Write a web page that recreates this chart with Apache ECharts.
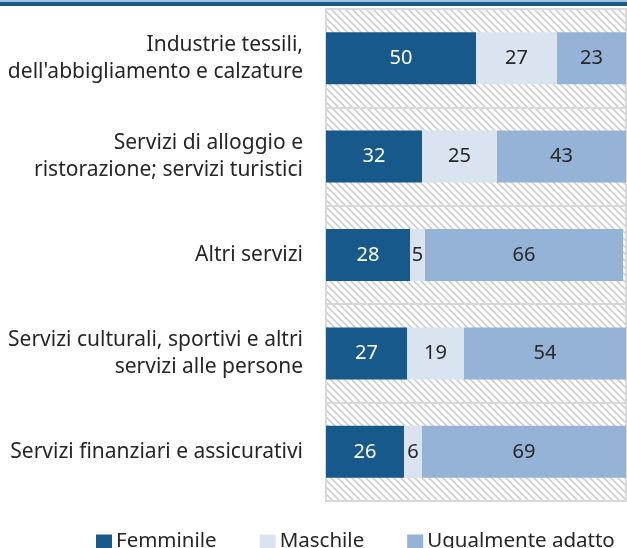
<!DOCTYPE html>
<html>
<head>
<meta charset="utf-8">
<script src="https://cdn.jsdelivr.net/npm/echarts@6/dist/echarts.min.js"></script>
<style>
  html, body { margin: 0; padding: 0; background: #fff; }
  #main { width: 627px; height: 548px; }
</style>
</head>
<body>
<div id="main"></div>
<script>
// dati
const categories = [
    "Industrie tessili,\ndell'abbigliamento e calzature",
    "Servizi di alloggio e\nristorazione; servizi turistici",
    "Altri servizi",
    "Servizi culturali, sportivi e altri\nservizi alle persone",
    "Servizi finanziari e assicurativi"
]
const femminile = [50, 32, 28, 27, 26]
const maschile = [27, 25, 5, 19, 6]
const ugualmente = [23, 43, 66, 54, 69]

// tratteggio di sfondo
const tile = document.createElement('canvas')
tile.width = 7
tile.height = 7
const ctx = tile.getContext('2d')
ctx.fillStyle = '#ffffff'
ctx.fillRect(0, 0, 7, 7)
ctx.strokeStyle = '#cfcfcf'
ctx.lineWidth = 1.6
ctx.beginPath()
ctx.moveTo(-1, -1); ctx.lineTo(8, 8)
ctx.moveTo(-5, 2); ctx.lineTo(2, 9)
ctx.moveTo(2, -5); ctx.lineTo(9, 2)
ctx.stroke()

const font = 'Noto Sans'
let myChart = echarts.init(document.getElementById('main'))
let labelDark = { show: true, color: '#262626', fontSize: 20, fontFamily: font }

let option = {
    animation: false,
    textStyle: { fontFamily: font },
    graphic: [
        { type: 'rect', shape: { x: 0, y: 0, width: 627, height: 2 }, style: { fill: '#9dc3e6' } },
        { type: 'rect', shape: { x: 0, y: 2, width: 627, height: 4 }, style: { fill: '#1a5a87' } }
    ],
    grid: {
        left: 326, right: 1, top: 9, bottom: 47,
        show: true,
        backgroundColor: { image: tile, repeat: 'repeat' },
        borderColor: '#d9d9d9',
        borderWidth: 2
    },
    legend: {
        top: 531,
        left: 96,
        padding: 0,
        icon: 'rect',
        itemWidth: 16,
        itemHeight: 14,
        itemGap: 43,
        textStyle: { fontSize: 20.5, color: '#262626', fontFamily: font, padding: [0, 0, 0, -1] },
        data: ['Femminile', 'Maschile', 'Ugualmente adatto']
    },
    xAxis: {
        type: 'value',
        min: 0,
        max: 100,
        show: false
    },
    yAxis: {
        type: 'category',
        inverse: true,
        data: categories,
        axisLine: { show: false },
        axisTick: { show: false },
        splitLine: { show: true, lineStyle: { color: '#d9d9d9', width: 2 } },
        axisLabel: {
            margin: 23,
            fontSize: 21,
            lineHeight: 27,
            color: '#262626',
            fontFamily: font,
            align: 'right'
        }
    },
    series: [{
        name: 'Femminile',
        type: 'bar',
        stack: 'tot',
        barWidth: 52,
        itemStyle: { color: '#16598a' },
        label: { show: true, color: '#ffffff', fontSize: 20, fontFamily: font },
        data: femminile
    }, {
        name: 'Maschile',
        type: 'bar',
        stack: 'tot',
        barWidth: 52,
        itemStyle: { color: '#dae3f0' },
        label: labelDark,
        data: maschile
    }, {
        name: 'Ugualmente adatto',
        type: 'bar',
        stack: 'tot',
        barWidth: 52,
        itemStyle: { color: '#95b3d7' },
        label: labelDark,
        data: ugualmente
    }]
}
myChart.setOption(option)
</script>
</body>
</html>
